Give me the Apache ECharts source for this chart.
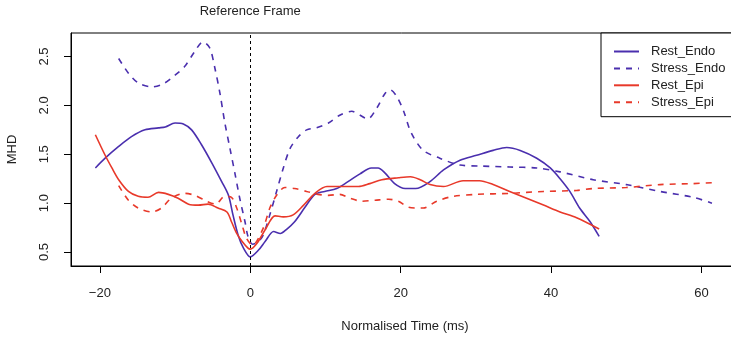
<!DOCTYPE html>
<html>
	<head>
		<meta charset="utf-8">
		<title>MHD</title>
	</head>
	<body style="margin:0;">
		<div id="container" style="width: 731px;height:340px;"></div>
	</body>
	<script src="https://cdn.jsdelivr.net/npm/echarts@6/dist/echarts.min.js"></script>
	<script type="text/javascript">
		'use strict'

		// [time (ms), MHD]
		var restEndo = [[-20.6,1.36],[-19.3,1.46],[-17.5,1.58],[-15.8,1.68],[-14.0,1.75],[-12.2,1.77],[-11.3,1.78],[-10.0,1.82],[-8.9,1.81],[-7.8,1.75],[-6.5,1.60],[-5.1,1.41],[-3.8,1.22],[-2.9,1.08],[-2.3,0.88],[-1.6,0.67],[-0.9,0.54],[0,0.45],[1.1,0.52],[2.0,0.61],[3.1,0.71],[4.0,0.69],[4.8,0.73],[5.9,0.81],[7.3,0.96],[8.6,1.09],[9.9,1.12],[11.5,1.15],[13.0,1.22],[14.6,1.30],[16.1,1.36],[17.0,1.36],[17.9,1.31],[19.2,1.20],[20.6,1.15],[22.0,1.15],[23.9,1.22],[25.7,1.34],[27.9,1.44],[30.1,1.49],[32.3,1.54],[34.1,1.57],[35.9,1.54],[38.1,1.46],[39.9,1.36],[41.2,1.25],[42.5,1.12],[43.8,0.95],[45.2,0.81],[46.4,0.66]];
		var stressEndo = [[-17.5,2.48],[-16.2,2.33],[-14.9,2.23],[-13.1,2.19],[-11.6,2.22],[-10.0,2.31],[-8.7,2.40],[-7.4,2.55],[-6.3,2.65],[-5.4,2.59],[-4.7,2.38],[-4.0,2.11],[-3.4,1.83],[-2.7,1.56],[-2.0,1.29],[-1.4,1.05],[-0.7,0.81],[-0.3,0.66],[0.3,0.58],[1.0,0.60],[1.7,0.67],[2.6,0.88],[3.5,1.12],[4.4,1.36],[5.3,1.56],[6.4,1.68],[7.5,1.75],[8.8,1.77],[10.4,1.82],[11.9,1.90],[13.5,1.94],[14.6,1.90],[15.6,1.86],[16.8,1.97],[17.9,2.12],[18.6,2.16],[19.5,2.09],[20.4,1.94],[21.4,1.72],[23.0,1.54],[25.2,1.46],[27.9,1.39],[30.5,1.38],[34.5,1.37],[38.1,1.36],[41.2,1.32],[45.6,1.24],[50.0,1.19],[54.5,1.12],[58.9,1.06],[61.4,1.00]];
		var restEpi = [[-20.6,1.70],[-19.3,1.49],[-18.4,1.36],[-17.5,1.24],[-16.2,1.12],[-14.9,1.07],[-13.6,1.06],[-12.2,1.11],[-10.9,1.09],[-9.6,1.05],[-8.2,0.99],[-6.9,0.98],[-5.6,0.99],[-4.3,0.95],[-3.1,0.91],[-2.5,0.81],[-1.8,0.69],[-1.1,0.61],[-0.3,0.54],[0.0,0.53],[0.9,0.59],[2.0,0.73],[3.3,0.87],[4.4,0.86],[5.7,0.88],[7.1,0.98],[8.6,1.10],[10.2,1.17],[11.7,1.17],[14.4,1.17],[15.9,1.20],[17.5,1.24],[19.7,1.26],[21.3,1.27],[22.6,1.24],[23.9,1.19],[25.7,1.17],[28.3,1.23],[30.5,1.23],[32.3,1.19],[34.5,1.12],[39.0,0.98],[41.2,0.91],[43.4,0.85],[46.4,0.735]];
		var stressEpi = [[-17.5,1.18],[-16.2,1.03],[-14.9,0.95],[-13.1,0.91],[-11.8,0.95],[-10.5,1.05],[-8.7,1.10],[-7.4,1.08],[-5.8,1.02],[-4.6,0.99],[-3.4,1.07],[-2.5,1.06],[-1.8,0.95],[-1.1,0.78],[-0.5,0.64],[0.3,0.57],[1.7,0.74],[2.6,0.95],[3.5,1.08],[4.6,1.16],[5.9,1.15],[7.5,1.12],[9.0,1.09],[10.4,1.08],[11.9,1.09],[13.3,1.05],[14.8,1.02],[16.6,1.03],[18.4,1.04],[19.7,1.02],[21.0,0.96],[22.2,0.95],[23.0,0.95],[24.8,1.02],[27.0,1.07],[30.1,1.09],[34.5,1.10],[39.0,1.12],[43.4,1.13],[45.6,1.15],[50.0,1.16],[54.5,1.19],[58.9,1.20],[61.5,1.21]];

		var seriesNames = ['Rest_Endo', 'Stress_Endo', 'Rest_Epi', 'Stress_Epi'];
		var xTicks = [-20, 0, 20, 40, 60];
		var yTicks = [0.5, 1.0, 1.5, 2.0, 2.5];

		var blue = '#4a2fae';
		var red = '#e8392a';
		var font = 'Liberation Sans';

		function lineSeries(name, data, color, dashed) {
			return {
				name: name,
				type: 'line',
				data: data,
				smooth: 0.3,
				symbol: 'none',
				lineStyle: {
					color: color,
					width: 1.6,
					type: dashed ? [6, 6] : 'solid'
				},
				itemStyle: { color: color }
			};
		}

		var series = [
			lineSeries(seriesNames[0], restEndo, blue, false),
			lineSeries(seriesNames[1], stressEndo, blue, true),
			lineSeries(seriesNames[2], restEpi, red, false),
			lineSeries(seriesNames[3], stressEpi, red, true)
		];
		// vertical reference line at t = 0
		series[0].markLine = {
			silent: true,
			symbol: 'none',
			lineStyle: { color: '#000', type: [3, 3], width: 1 },
			label: {
				show: true,
				position: 'end',
				distance: 15,
				formatter: 'Reference Frame',
				color: '#222',
				fontFamily: font,
				fontSize: 13
			},
			data: [{ xAxis: 0 }]
		};

		var myCharts = echarts.init(document.getElementById('container'));
		var option = {
			animation: false,
			backgroundColor: '#fff',
			textStyle: { fontFamily: font },
			grid: {
				left: 71,
				right: -8,
				top: 33,
				bottom: 74,
				outerBoundsMode: 'none',
				show: true,
				borderColor: '#000',
				borderWidth: 1
			},
			legend: {
				data: seriesNames,
				orient: 'vertical',
				left: 601,
				top: 33,
				backgroundColor: '#fff',
				borderColor: '#000',
				borderWidth: 1,
				borderRadius: 0,
				padding: [12, 20, 8, 12],
				itemWidth: 25,
				itemHeight: 10,
				itemGap: 3.9,
				// hide the round marker, keep the line sample
				itemStyle: { opacity: 0 },
				textStyle: {
					fontFamily: font,
					fontSize: 13,
					color: '#222',
					padding: [0, 0, 0, 7]
				}
			},
			xAxis: {
				type: 'value',
				min: -23.84,
				max: 65,
				name: 'Normalised Time (ms)',
				nameLocation: 'middle',
				nameGap: 54,
				nameTextStyle: { fontFamily: font, fontSize: 13, color: '#222' },
				axisLine: { show: true, onZero: false, lineStyle: { color: '#000' } },
				axisTick: {
					show: true,
					length: 7,
					customValues: xTicks,
					lineStyle: { color: '#000' }
				},
				axisLabel: {
					customValues: xTicks,
					margin: 21,
					fontFamily: font,
					fontSize: 13,
					color: '#222',
					formatter: function (v) {
						return String(v).replace('-', '\u2212');
					}
				},
				splitLine: { show: false }
			},
			yAxis: {
				type: 'value',
				min: 0.357,
				max: 2.741,
				name: 'MHD',
				nameLocation: 'middle',
				nameRotate: 90,
				nameGap: 52,
				nameTextStyle: { fontFamily: font, fontSize: 13, color: '#222' },
				axisLine: { show: true, onZero: false, lineStyle: { color: '#000' } },
				axisTick: {
					show: true,
					length: 7,
					customValues: yTicks,
					lineStyle: { color: '#000' }
				},
				axisLabel: {
					customValues: yTicks,
					rotate: 90,
					margin: 20,
					fontFamily: font,
					fontSize: 13,
					color: '#222',
					formatter: function (v) {
						return v.toFixed(1);
					}
				},
				splitLine: { show: false }
			},
			series: series
		};
		myCharts.setOption(option);
	</script>
</html>
